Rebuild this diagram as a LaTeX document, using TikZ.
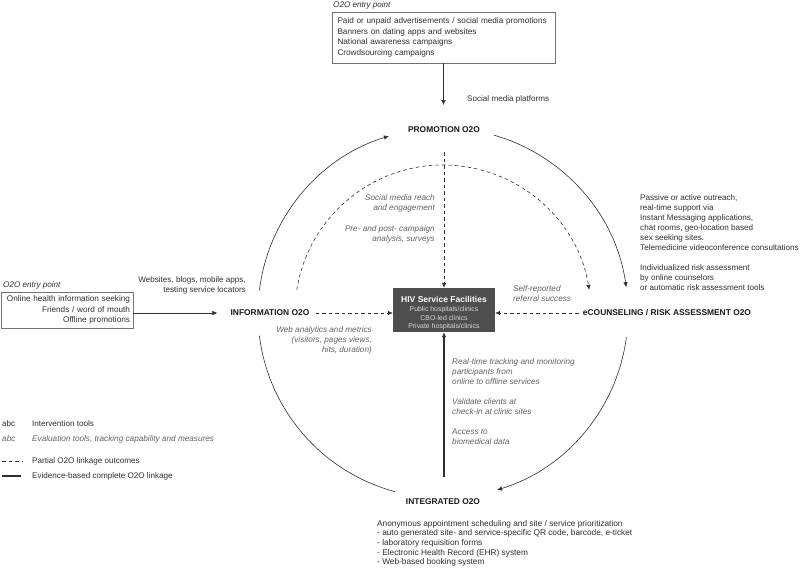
\documentclass[tikz,border=0pt]{standalone}
\usepackage{fontspec}
\setmainfont{Liberation Sans}
\usetikzlibrary{arrows.meta}
\usetikzlibrary{positioning}

\definecolor{inkgray}{HTML}{2E2E2E}
\definecolor{evalgray}{HTML}{626262}
\definecolor{boxgray}{HTML}{4E4E4E}
\definecolor{subgray}{HTML}{D8D8D8}

\newcommand\hivsub{\color{subgray}}

\tikzset{
  tool/.style={font=\fontsize{8.1}{10}\selectfont, text=inkgray, inner sep=0pt},
  eval/.style={font=\fontsize{8.2}{10}\selectfont\itshape, text=evalgray, inner sep=0pt},
  stage/.style={font=\fontsize{8.4}{9}\selectfont\bfseries, text=black!90, inner sep=1pt},
  entrybox/.style={draw=black!55, line width=0.6pt, inner sep=0pt, text=inkgray,
    font=\fontsize{8.2}{10.6}\selectfont},
  hivbox/.style={fill=boxgray, draw=none, text=white, inner sep=0pt,
    minimum width=102pt, minimum height=44pt, align=center,
    font=\fontsize{6.9}{8.2}\selectfont},
  link/.style={draw=inkgray, line width=0.6pt, -{Latex[length=5pt,width=4.5pt]}},
  partial/.style={link, dash pattern=on 3.5pt off 3pt},
  evidence/.style={link, line width=1.4pt},
}

\begin{document}
\begin{tikzpicture}[x=1pt,y=1pt]
  % Constants
  \pgfmathsetmacro\ro{185}
  \pgfmathsetmacro\ri{148}
  % Boundary
  \path[use as bounding box] (0,0) rectangle (800,-568);
  \coordinate (ctr) at (443,-313);

  % Stages
  \node[stage] (promo) at (444,-130) {PROMOTION O2O};
  \node[stage] (info) at (270,-313) {INFORMATION O2O};
  \node[stage] (ecoun) at (667,-313) {eCOUNSELING / RISK ASSESSMENT O2O};
  \node[stage] (integ) at (443,-502) {INTEGRATED O2O};

  % HIV service facilities
  \node[hivbox] (hiv) at (444,-310)
    {\rule{0pt}{12pt}{\fontsize{8.5}{9}\selectfont\bfseries HIV Service Facilities}\\[1.5pt]
     \hivsub Public hospitals/clinics\\
     \hivsub CBO-led clinics\\
     \hivsub Private hospitals/clinics};

  % Entry points
  \node[entrybox, text width=212pt, minimum width=223pt, minimum height=51pt, align=left]
    (promoentry) at (443.5,-37.5)
    {Paid or unpaid advertisements / social media promotions\\
     Banners on dating apps and websites\\
     National awareness campaigns\\
     Crowdsourcing campaigns};
  \node[tool, anchor=west, font=\fontsize{8.1}{10}\selectfont\itshape] (promolabel) at (333,-5) {O2O entry point};
  \node[entrybox, text width=126pt, minimum width=132pt, minimum height=36pt, align=right]
    (infoentry) at (67,-310)
    {Online health information seeking\\
     Friends / word of mouth\\
     Offline promotions};
  \node[tool, anchor=west, font=\fontsize{8.1}{10}\selectfont\itshape] (infolabel) at (3,-285) {O2O entry point};

  % Intervention tools
  \node[tool, anchor=west] (smp) at (467,-99) {Social media platforms};
  \node[tool, anchor=north east, align=right] (webtools) at (246,-276)
    {Websites, blogs, mobile apps,\\testing service locators};
  \node[tool, anchor=north west, align=left] (ectools) at (640,-194)
    {Passive or active outreach,\\
     real-time support via\\
     Instant Messaging applications,\\
     chat rooms, geo-location based\\
     sex seeking sites.\\
     Telemedicine videoconference consultations\\[10pt]
     Individualized risk assessment\\
     by online counselors\\
     or automatic risk assessment tools};
  \node[tool, anchor=north west, align=left, font=\fontsize{8.3}{9.6}\selectfont] (integtools) at (377,-520)
    {Anonymous appointment scheduling and site / service prioritization\\
     - auto generated site- and service-specific QR code, barcode, e-ticket\\
     - laboratory requisition forms\\
     - Electronic Health Record (EHR) system\\
     - Web-based booking system};

  % Evaluation tools
  \node[eval, anchor=north east, align=right] (promoeval) at (435,-194)
    {Social media reach\\and engagement\\[11pt]
     Pre- and post- campaign\\analysis, surveys};
  \node[eval, anchor=north west, align=left] (selfeval) at (513,-285)
    {Self-reported\\referral success};
  \node[eval, anchor=north east, align=right] (webeval) at (372,-326)
    {Web analytics and metrics\\(visitors, pages views,\\hits, duration)};
  \node[eval, anchor=north west, align=left] (integeval) at (452,-358)
    {Real-time tracking and monitoring\\
     participants from\\
     online to offline services\\[10pt]
     Validate clients at\\
     check-in at clinic sites\\[10pt]
     Access to\\
     biomedical data};

  % Entry arrows
  \coordinate (promoin) at (443.5,-105);
  \draw[link] (promoentry.south) -- (promoin);
  \draw[link] (infoentry.east |- info.west) -- ([xshift=-12pt]info.west);

  % Outer cycle
  \draw[link] ([shift={(173:\ro)}]ctr) arc[start angle=173, end angle=107, radius=\ro];
  \draw[link] ([shift={(74:\ro)}]ctr) arc[start angle=74, end angle=8, radius=\ro];
  \draw[link] ([shift={(-7.5:\ro)}]ctr) arc[start angle=-7.5, end angle=-73, radius=\ro];
  \draw[link, -] ([shift={(187:\ro)}]ctr) arc[start angle=187, end angle=255, radius=\ro];

  % Partial linkage
  \draw[partial] ([shift={(171:\ri)}]ctr) arc[start angle=171, end angle=9, radius=\ri];
  \coordinate (promoout) at (444,-152);
  \draw[partial] (promoout) -- (hiv.north);
  \draw[partial] ([xshift=5pt]info.east) -- (info -| hiv.west);
  \draw[partial] ([xshift=-3pt]ecoun.west) -- (ecoun -| hiv.east);

  % Complete linkage
  \coordinate (integin) at (444,-477);
  \draw[evidence] (integin) -- (hiv.south);

  % Legend
  \node[tool, anchor=west] (abcone) at (2,-424) {abc};
  \node[tool, anchor=west] (legtool) at (32,-424) {Intervention tools};
  \node[eval, anchor=west] (abctwo) at (2,-439) {abc};
  \node[eval, anchor=west] (legeval) at (32,-439) {Evaluation tools, tracking capability and measures};
  \coordinate (dashA) at (2,-461);
  \coordinate (dashB) at (22,-461);
  \draw[draw=inkgray, line width=0.6pt, dash pattern=on 3.5pt off 3pt] (dashA) -- (dashB);
  \node[tool, anchor=west] (legpartial) at (32,-461) {Partial O2O linkage outcomes};
  \coordinate (solidA) at (2,-476);
  \coordinate (solidB) at (21,-476);
  \draw[draw=inkgray, line width=1.4pt] (solidA) -- (solidB);
  \node[tool, anchor=west] (legevidence) at (32,-476) {Evidence-based complete O2O linkage};
\end{tikzpicture}
\end{document}
